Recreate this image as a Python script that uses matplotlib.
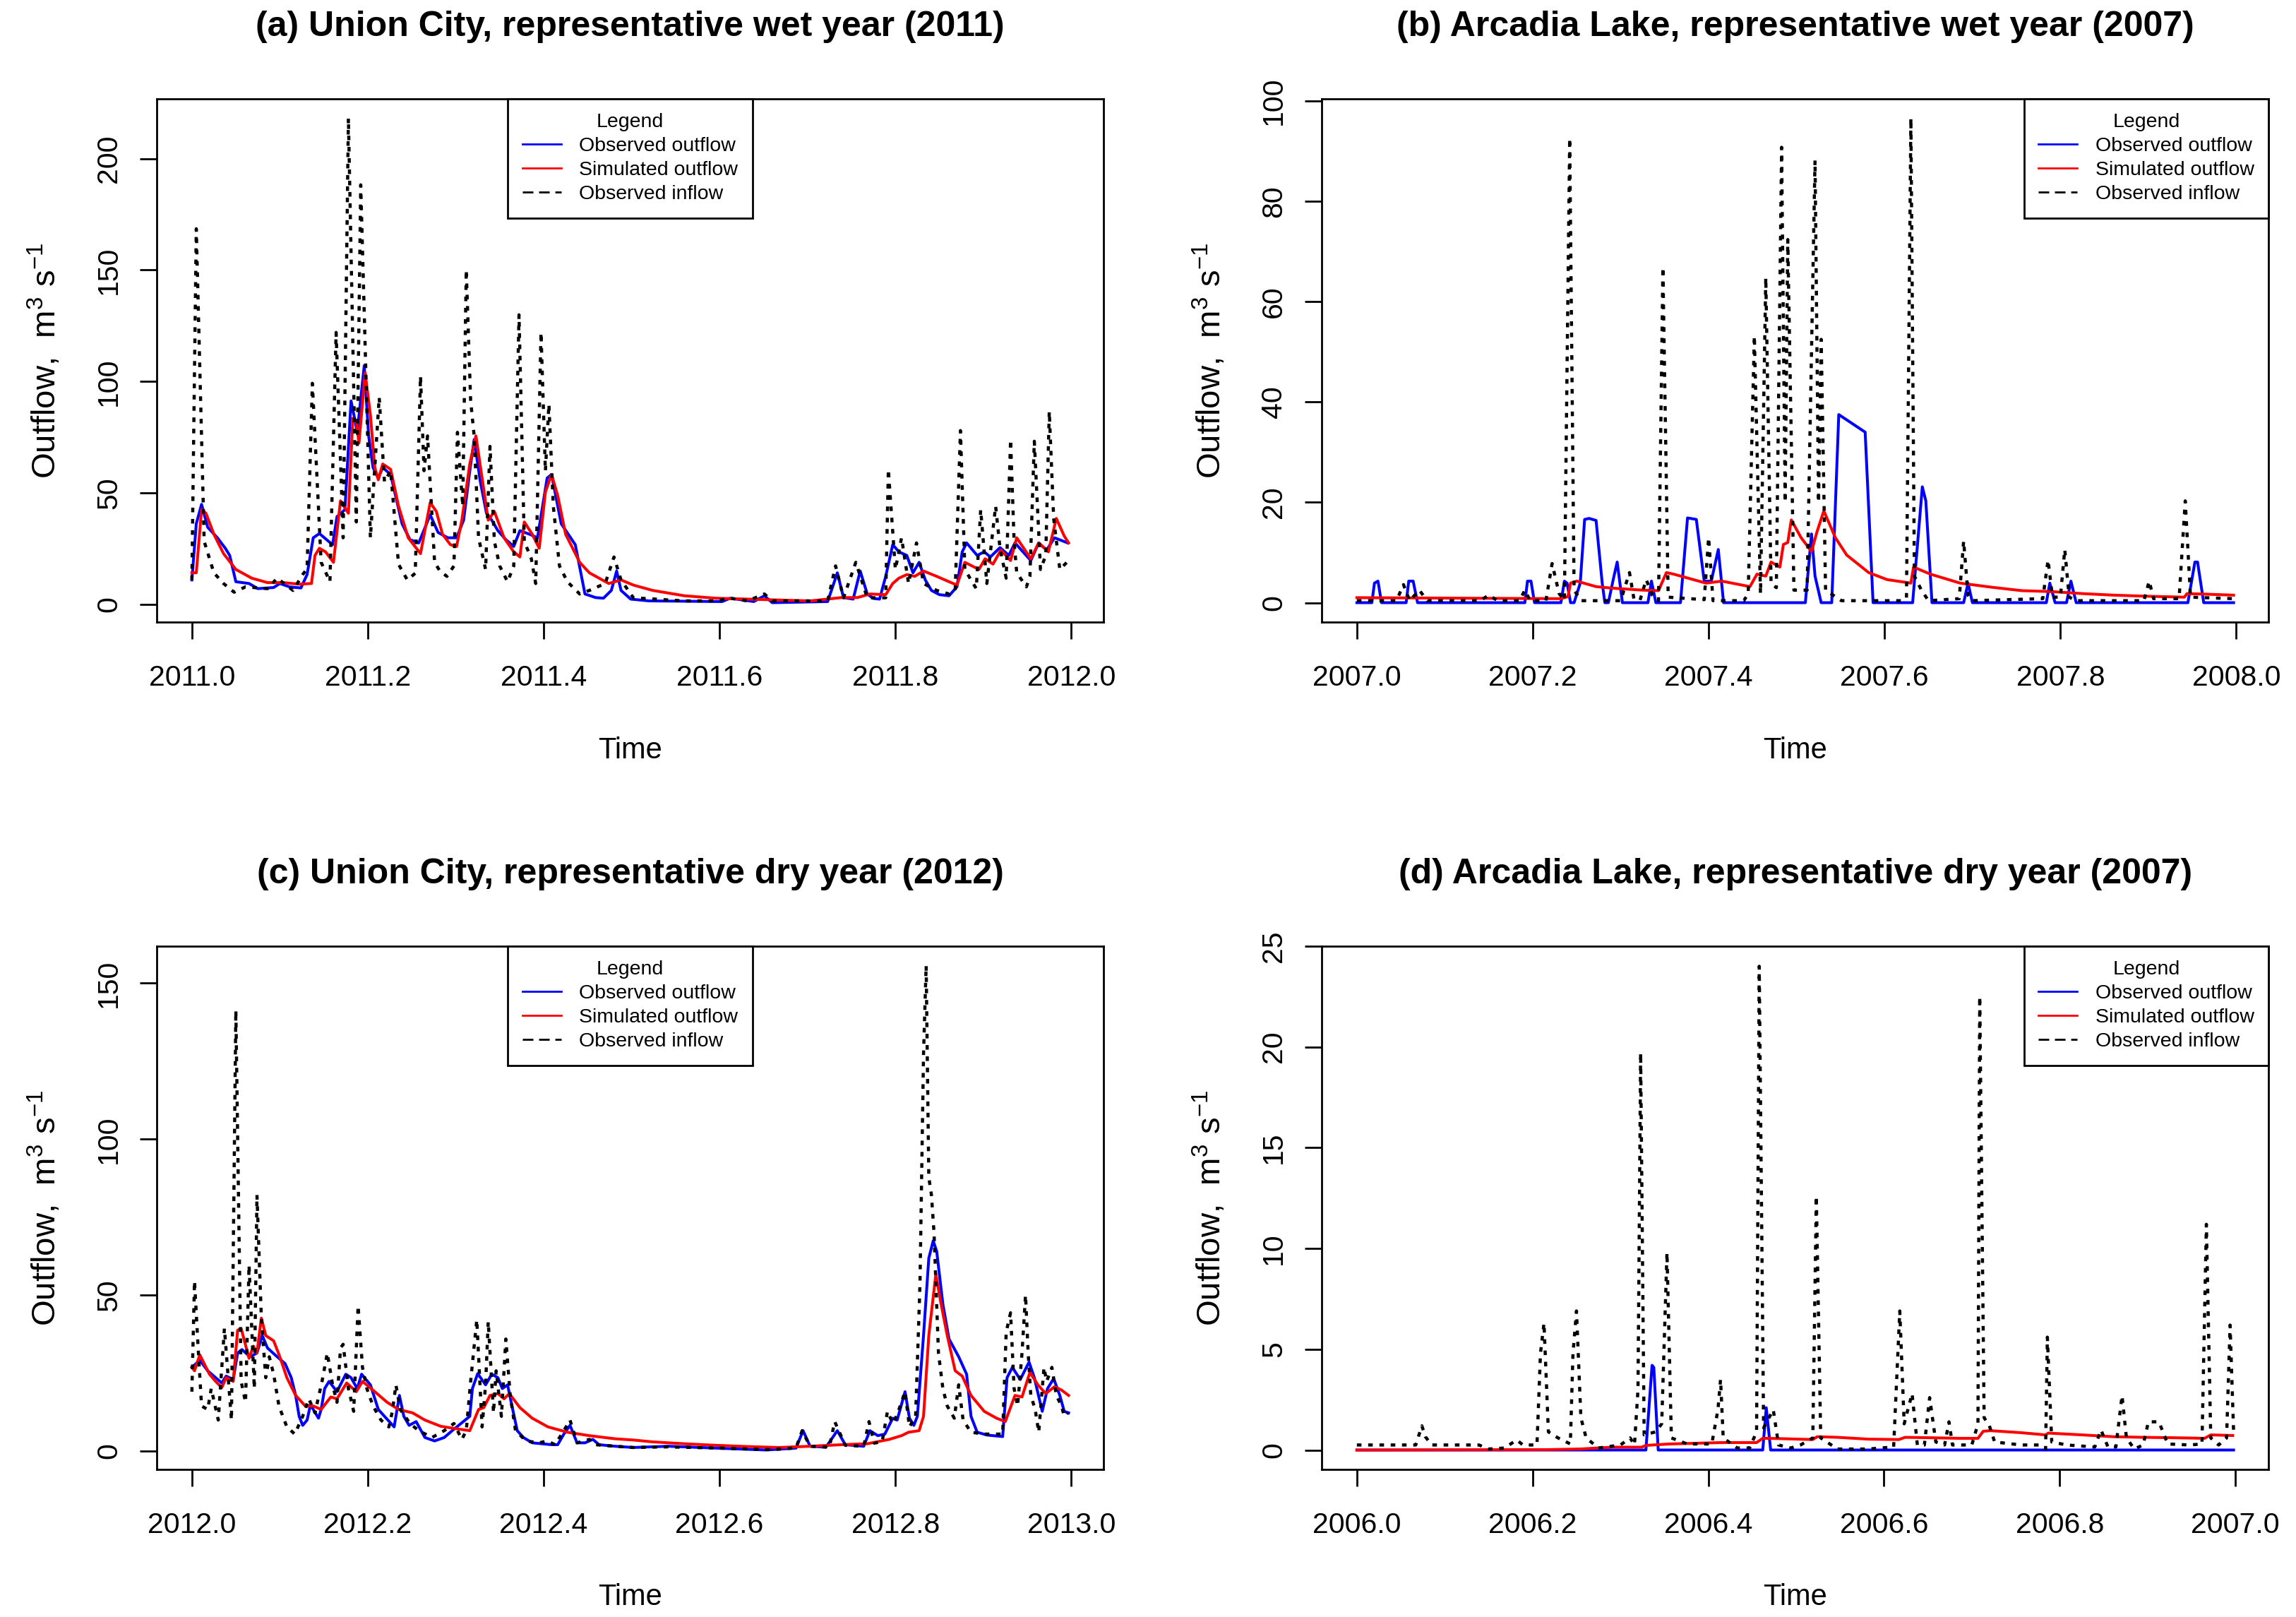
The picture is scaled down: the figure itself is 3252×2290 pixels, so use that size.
import numpy as np
import matplotlib
matplotlib.use("Agg")
import matplotlib.pyplot as plt
from matplotlib.lines import Line2D

plt.rcParams["font.family"] = ["Liberation Sans", "DejaVu Sans"]
plt.rcParams["mathtext.fontset"] = "custom"
plt.rcParams["mathtext.rm"] = "Liberation Sans"
plt.rcParams["mathtext.it"] = "Liberation Sans:italic"
plt.rcParams["mathtext.bf"] = "Liberation Sans:bold"
plt.rcParams["mathtext.default"] = "regular"
plt.rcParams["lines.scale_dashes"] = False

# time is given as fraction of the year, flows in m3/s

# (a) Union City, wet year 2011
a_year = 2011
a_in_t = [0.000, 0.005, 0.014, 0.025, 0.036, 0.048, 0.061, 0.086, 0.097, 0.115, 0.126, 0.131,
          0.137, 0.147, 0.157, 0.164, 0.172, 0.178, 0.187, 0.192, 0.203, 0.213, 0.219, 0.226,
          0.235, 0.245, 0.254, 0.260, 0.264, 0.268, 0.276, 0.282, 0.290, 0.298, 0.302, 0.308,
          0.312, 0.317, 0.321, 0.326, 0.334, 0.339, 0.344, 0.350, 0.359, 0.366, 0.372, 0.378,
          0.386, 0.391, 0.397, 0.402, 0.406, 0.411, 0.418, 0.427, 0.441, 0.452, 0.470, 0.480,
          0.488, 0.502, 0.560, 0.596, 0.612, 0.632, 0.651, 0.660, 0.723, 0.732, 0.741, 0.755,
          0.768, 0.789, 0.792, 0.800, 0.807, 0.815, 0.824, 0.832, 0.847, 0.861, 0.868, 0.874,
          0.879, 0.886, 0.892, 0.897, 0.904, 0.914, 0.919, 0.926, 0.931, 0.935, 0.938, 0.949,
          0.953, 0.958, 0.965, 0.971, 0.975, 0.980, 0.987, 0.995]
a_in_q = [11, 168.5, 28.3, 14.2, 9.4, 5.5, 7.9, 7.1, 11.8, 6.3, 13.4, 16,
          99.2, 18.9, 10.2, 122, 29.9, 218.1, 37, 188.2, 29.9, 92.9, 55, 60,
          18, 11, 14, 102.4, 60, 75.6, 18.9, 15, 12.6, 17.3, 77.2, 44.1,
          150.1, 91.3, 75.6, 29.9, 15.7, 70.9, 28.3, 17.3, 10.2, 17.3, 129.9, 28.3,
          20.5, 9.4, 122, 59.8, 89.8, 44.1, 17.3, 10.2, 4.7, 6.3, 9.4, 21.3,
          11, 3, 1.6, 1.6, 2.8, 1.6, 4.7, 1.6, 1.6, 17.3, 3, 18.9,
          3, 3, 60.6, 15.7, 29.9, 9.4, 27.6, 9.4, 6.3, 4.7, 6.3, 78,
          15.7, 11, 7.1, 42.5, 9.4, 44.1, 25.2, 11.8, 74, 28.3, 14.2, 7.9,
          12.6, 73.2, 15.7, 22, 86.6, 38.6, 15.7, 18.9]
a_obs_t = [0.000, 0.005, 0.011, 0.018, 0.029, 0.038, 0.043, 0.050, 0.065, 0.075, 0.093, 0.100,
           0.111, 0.124, 0.131, 0.138, 0.145, 0.160, 0.165, 0.174, 0.181, 0.185, 0.188, 0.196,
           0.201, 0.206, 0.212, 0.217, 0.226, 0.239, 0.248, 0.258, 0.271, 0.280, 0.291, 0.301,
           0.309, 0.316, 0.321, 0.328, 0.335, 0.341, 0.348, 0.357, 0.366, 0.373, 0.384, 0.393,
           0.404, 0.409, 0.420, 0.436, 0.447, 0.459, 0.468, 0.477, 0.483, 0.488, 0.499, 0.520,
           0.603, 0.612, 0.639, 0.651, 0.660, 0.723, 0.734, 0.741, 0.752, 0.760, 0.768, 0.775,
           0.782, 0.789, 0.797, 0.804, 0.813, 0.820, 0.827, 0.834, 0.841, 0.850, 0.861, 0.870,
           0.876, 0.881, 0.893, 0.901, 0.908, 0.919, 0.929, 0.936, 0.954, 0.963, 0.972, 0.981,
           0.996]
a_obs_q = [11, 36.2, 44.9, 34.6, 29.9, 25.2, 22, 10.2, 9.4, 7.1, 7.6, 9.4,
           7.9, 7.4, 13.4, 29.9, 31.8, 26.8, 39.4, 42.5, 91.3, 83.5, 77.2, 107.1,
           75.6, 61.4, 56.7, 61.4, 58.3, 36.2, 29.1, 27.6, 40.2, 32.3, 29.9, 29.9,
           37.8, 59.8, 74, 55.1, 40.9, 37.8, 33.1, 29.1, 26, 33.1, 31.5, 29.9,
           56.7, 58.3, 36.2, 26.8, 4.7, 3.1, 2.8, 6.3, 15, 6.3, 2.4, 1.6,
           1.3, 2.8, 1.3, 3.9, 0.8, 1.3, 14.2, 3.1, 2.4, 15, 4.7, 2.7,
           2.4, 12.6, 26.8, 23.6, 22, 14.2, 18.9, 11, 6.3, 4.4, 3.9, 7.9,
           23.6, 27.6, 22, 23.6, 21.3, 25.5, 22, 27.6, 19.7, 27.6, 24.4, 29.9,
           27.6]
a_sim_t = [0.000, 0.005, 0.011, 0.016, 0.025, 0.036, 0.050, 0.068, 0.086, 0.104, 0.122, 0.136,
           0.140, 0.145, 0.152, 0.161, 0.169, 0.178, 0.183, 0.187, 0.190, 0.197, 0.203, 0.208,
           0.212, 0.217, 0.226, 0.235, 0.246, 0.260, 0.271, 0.278, 0.285, 0.294, 0.301, 0.307,
           0.316, 0.323, 0.330, 0.337, 0.344, 0.355, 0.366, 0.373, 0.378, 0.387, 0.395, 0.402,
           0.409, 0.416, 0.425, 0.441, 0.452, 0.474, 0.488, 0.502, 0.524, 0.560, 0.596, 0.632,
           0.667, 0.703, 0.739, 0.757, 0.771, 0.789, 0.797, 0.804, 0.813, 0.822, 0.832, 0.847,
           0.861, 0.870, 0.879, 0.895, 0.902, 0.911, 0.920, 0.931, 0.938, 0.954, 0.963, 0.974,
           0.983, 0.992, 0.997]
a_sim_q = [14.2, 14.2, 42.5, 40.9, 31.5, 22.8, 15.7, 11.8, 9.8, 9.8, 9.1, 9.4,
           22, 25.2, 23.6, 18.9, 46.5, 40.9, 83.5, 81.9, 72.4, 103.9, 85, 61.4,
           55.9, 63, 60.6, 44.1, 29.9, 22.8, 45.7, 41.7, 31.5, 26.8, 26, 37.8,
           63, 75.6, 56.7, 37.8, 41.7, 29.9, 23.6, 21.3, 37, 31.5, 25.2, 50.4,
           58.3, 48.8, 31.5, 18.9, 14.2, 9.4, 11, 8.7, 6.3, 3.9, 2.8, 2.4,
           2, 1.6, 3.1, 3.1, 4.7, 4.4, 9.4, 11.8, 13.4, 12.6, 15, 12.6,
           10.2, 8.7, 18.9, 15.7, 20.5, 18.1, 24.4, 19.7, 29.9, 20.5, 27.6, 23.6,
           38.6, 30.7, 27.6]

# (b) Arcadia Lake, wet year 2007
b_year = 2007
b_in_t = [0.000, 0.045, 0.053, 0.060, 0.071, 0.080, 0.140, 0.150, 0.160, 0.185, 0.191, 0.197,
          0.215, 0.222, 0.230, 0.236, 0.242, 0.247, 0.255, 0.300, 0.310, 0.315, 0.322, 0.329,
          0.336, 0.343, 0.348, 0.354, 0.395, 0.400, 0.405, 0.440, 0.445, 0.452, 0.459, 0.465,
          0.471, 0.477, 0.483, 0.487, 0.490, 0.497, 0.512, 0.521, 0.525, 0.528, 0.533, 0.551,
          0.620, 0.625, 0.630, 0.634, 0.642, 0.650, 0.685, 0.690, 0.695, 0.700, 0.780, 0.786,
          0.791, 0.800, 0.805, 0.810, 0.818, 0.895, 0.901, 0.906, 0.935, 0.942, 0.948, 0.997]
b_in_q = [0.4, 0.4, 3.6, 0.4, 2.5, 0.4, 0.4, 1.5, 0.4, 0.4, 2.5, 0.4,
          0.4, 7.8, 1.8, 0.5, 92.6, 2.5, 0.4, 0.4, 6, 0.8, 0.5, 4.6,
          1.5, 0.4, 66.9, 1.1, 0.6, 13, 0.4, 0.4, 1.8, 53.2, 1.8, 64.8,
          3.9, 3, 90.8, 20, 72.4, 2.5, 2.5, 88.2, 20, 52.5, 2.5, 0.4,
          0.4, 1, 96.6, 5.3, 2.5, 0.4, 0.8, 12.3, 1.5, 0.4, 0.8, 8.5,
          1.1, 1.1, 10.6, 1.1, 0.4, 0.4, 4.3, 0.8, 0.8, 20.3, 1.1, 0.8]
b_obs_t = [0.000, 0.017, 0.020, 0.024, 0.028, 0.056, 0.059, 0.064, 0.069, 0.191, 0.194, 0.198,
           0.202, 0.232, 0.236, 0.239, 0.243, 0.247, 0.254, 0.259, 0.264, 0.272, 0.279, 0.282,
           0.286, 0.292, 0.296, 0.302, 0.331, 0.335, 0.340, 0.368, 0.376, 0.386, 0.395, 0.403,
           0.411, 0.417, 0.510, 0.517, 0.521, 0.528, 0.540, 0.548, 0.578, 0.587, 0.632, 0.643,
           0.647, 0.654, 0.690, 0.695, 0.700, 0.784, 0.788, 0.794, 0.807, 0.812, 0.818, 0.945,
           0.953, 0.956, 0.963, 0.997]
b_obs_q = [0, 0, 3.9, 4.3, 0, 0, 4.3, 4.3, 0, 0, 4.3, 4.3,
           0, 0, 4.3, 3.9, 0, 0, 3.9, 16.6, 16.8, 16.4, 3.9, 0,
           0, 5, 8.1, 0, 0, 4.3, 0, 0, 16.9, 16.6, 4.3, 4.3,
           10.6, 0, 0, 13.7, 5.3, 0, 0, 37.5, 34, 0, 0, 23.1,
           20.3, 0, 0, 3.9, 0, 0, 3.9, 0, 0, 4.3, 0, 0,
           8.1, 8.1, 0, 0]
b_sim_t = [0.000, 0.232, 0.240, 0.243, 0.250, 0.272, 0.290, 0.325, 0.343, 0.352, 0.360, 0.397,
           0.415, 0.447, 0.455, 0.465, 0.471, 0.481, 0.485, 0.490, 0.494, 0.505, 0.517, 0.523,
           0.531, 0.544, 0.557, 0.582, 0.603, 0.630, 0.633, 0.652, 0.686, 0.721, 0.756, 0.791,
           0.826, 0.861, 0.895, 0.941, 0.944, 0.965, 0.997]
b_sim_q = [1, 0.8, 1.2, 3.9, 4.3, 3.2, 2.9, 2.5, 2.4, 6, 5.7, 3.9,
           4.3, 3.2, 5.7, 5.3, 8.1, 7.1, 11.6, 12, 16.5, 13, 10.2, 14,
           18.3, 13, 9.5, 6, 4.6, 3.9, 7.1, 5.7, 3.9, 3.1, 2.4, 2.2,
           1.8, 1.5, 1.3, 1.1, 1.8, 1.7, 1.5]

# (c) Union City, dry year 2012
c_year = 2012
c_in_t = [0.000, 0.003, 0.007, 0.011, 0.018, 0.022, 0.030, 0.037, 0.045, 0.050, 0.056, 0.061,
          0.065, 0.071, 0.074, 0.079, 0.084, 0.088, 0.093, 0.099, 0.108, 0.117, 0.126, 0.133,
          0.140, 0.148, 0.154, 0.160, 0.165, 0.169, 0.172, 0.178, 0.184, 0.189, 0.194, 0.199,
          0.206, 0.215, 0.224, 0.228, 0.232, 0.237, 0.248, 0.258, 0.273, 0.287, 0.298, 0.307,
          0.312, 0.317, 0.324, 0.330, 0.334, 0.337, 0.343, 0.346, 0.352, 0.357, 0.362, 0.368,
          0.380, 0.395, 0.404, 0.413, 0.423, 0.430, 0.438, 0.452, 0.459, 0.481, 0.502, 0.540,
          0.600, 0.660, 0.687, 0.694, 0.703, 0.725, 0.731, 0.743, 0.764, 0.770, 0.776, 0.785,
          0.791, 0.797, 0.802, 0.811, 0.816, 0.823, 0.828, 0.832, 0.835, 0.838, 0.841, 0.844,
          0.849, 0.854, 0.859, 0.867, 0.872, 0.877, 0.886, 0.901, 0.922, 0.926, 0.931, 0.935,
          0.939, 0.944, 0.948, 0.951, 0.954, 0.959, 0.963, 0.969, 0.972, 0.978, 0.983, 0.989,
          0.992, 0.996]
c_in_q = [19, 54.5, 33.6, 14.4, 13.3, 20, 9.9, 39.3, 9.9, 141.3, 22.3, 15.6,
          59.6, 20, 82.1, 42.6, 23.5, 30.2, 24.6, 14.4, 7.7, 5.4, 11.1, 16.7,
          12.2, 22.3, 31.4, 21.2, 15.6, 33, 34.2, 20, 12.7, 46.6, 26.8, 20,
          14.4, 9.9, 7.7, 12.7, 21.2, 13.3, 8.8, 6.5, 4.3, 6.5, 8.8, 3.7,
          6.5, 22.3, 42.1, 7.7, 21.2, 41.5, 12.2, 25.7, 11.1, 35.9, 17.8, 6.5,
          3.2, 2.6, 3.2, 2, 6.5, 9.9, 2.6, 3.7, 2, 1.5, 1.1, 1.3,
          0.9, 0.4, 1, 6.5, 1.5, 1.2, 9.4, 1.8, 1.5, 9.4, 2.5, 3,
          12.7, 8.8, 11.6, 19, 7.7, 11.1, 53.9, 127.2, 155.7, 87.8, 82.1, 69.7,
          31.4, 20, 14.4, 10.5, 21.2, 9.9, 6, 5.4, 5.4, 38.1, 44.3, 20,
          14.4, 31.4, 50, 31.4, 17.8, 13.3, 6, 26.8, 22.3, 26.8, 17.8, 14.4,
          11.1, 12.2]
c_obs_t = [0.000, 0.009, 0.018, 0.027, 0.034, 0.039, 0.047, 0.052, 0.057, 0.066, 0.074, 0.080,
           0.086, 0.097, 0.106, 0.113, 0.118, 0.122, 0.126, 0.131, 0.135, 0.138, 0.144, 0.147,
           0.151, 0.156, 0.165, 0.175, 0.181, 0.188, 0.193, 0.203, 0.212, 0.219, 0.230, 0.236,
           0.241, 0.247, 0.255, 0.265, 0.276, 0.287, 0.296, 0.316, 0.319, 0.325, 0.334, 0.341,
           0.348, 0.353, 0.359, 0.364, 0.370, 0.377, 0.387, 0.409, 0.416, 0.423, 0.430, 0.438,
           0.447, 0.456, 0.463, 0.481, 0.502, 0.542, 0.596, 0.653, 0.687, 0.695, 0.703, 0.721,
           0.734, 0.743, 0.764, 0.771, 0.780, 0.788, 0.797, 0.802, 0.811, 0.816, 0.821, 0.825,
           0.832, 0.838, 0.843, 0.847, 0.854, 0.861, 0.872, 0.881, 0.886, 0.893, 0.904, 0.922,
           0.927, 0.933, 0.942, 0.952, 0.958, 0.967, 0.973, 0.980, 0.987, 0.992, 0.997]
c_obs_q = [26.8, 29.1, 25.7, 23.5, 21.8, 24, 22.9, 31.4, 32.5, 30.2, 31.4, 37,
           33, 30.2, 28, 23.5, 17.8, 11.1, 8.2, 9.9, 15, 13.3, 10.5, 13.3,
           20, 22.3, 19, 24.6, 23.5, 20, 24.6, 21.2, 13.3, 11.1, 7.7, 17.8,
           11.1, 8.2, 9.4, 4.3, 3.2, 4.3, 6.5, 11.1, 20, 24.8, 21.2, 24.6,
           23.5, 20, 21.2, 14.4, 6.5, 4.3, 2.6, 2, 2, 5.4, 8.2, 2.6,
           2.6, 3.7, 2, 1.5, 1.1, 1.5, 0.9, 0.3, 0.9, 6.5, 1.5, 1.2,
           6.5, 2, 1.5, 6.5, 4.9, 5.4, 10.5, 9.9, 19, 10.5, 8.2, 11.1,
           37, 61.8, 67.4, 64, 47.1, 35.9, 30.2, 24.6, 11.1, 6, 5.1, 4.6,
           23.5, 26.8, 22.9, 28.5, 23.5, 12.7, 20, 23.2, 17.8, 12.7, 12.2]
c_sim_t = [0.000, 0.003, 0.009, 0.014, 0.020, 0.027, 0.034, 0.039, 0.047, 0.052, 0.056, 0.065,
           0.070, 0.074, 0.079, 0.084, 0.093, 0.100, 0.108, 0.118, 0.129, 0.138, 0.147, 0.158,
           0.165, 0.176, 0.187, 0.194, 0.208, 0.222, 0.235, 0.251, 0.265, 0.283, 0.301, 0.316,
           0.326, 0.332, 0.339, 0.348, 0.355, 0.361, 0.373, 0.387, 0.405, 0.427, 0.452, 0.481,
           0.502, 0.524, 0.560, 0.596, 0.632, 0.667, 0.703, 0.739, 0.768, 0.793, 0.807, 0.815,
           0.827, 0.832, 0.838, 0.846, 0.852, 0.859, 0.868, 0.876, 0.886, 0.901, 0.915, 0.925,
           0.936, 0.944, 0.953, 0.962, 0.971, 0.981, 0.989, 0.997]
c_sim_q = [26.8, 25.7, 30.8, 28, 24.6, 22.3, 20.3, 23.5, 22.3, 38.7, 39.3, 29.7,
           33.6, 31.4, 42.6, 37, 35.3, 30.2, 23.5, 17.8, 14.4, 14.4, 13.3, 17.3,
           16.7, 21.8, 19, 22.3, 19, 15.6, 13.3, 12.2, 9.9, 7.9, 7.1, 6.5,
           13.3, 13.9, 17.8, 18.4, 16.7, 18.4, 13.9, 10.5, 7.7, 6, 4.9, 3.9,
           3.5, 2.9, 2.3, 1.8, 1.4, 1.1, 1.5, 2, 2.3, 3.7, 4.9, 6,
           6.5, 11.1, 37, 56.7, 47.1, 37, 25.7, 24, 17.8, 12.7, 10.5, 9.4,
           17.8, 17.3, 25.2, 21.2, 18.4, 20.6, 19.5, 17.8]

# (d) Arcadia Lake, dry year (axis runs over 2006)
d_year = 2006
d_in_t = [0.000, 0.067, 0.074, 0.078, 0.085, 0.139, 0.150, 0.168, 0.182, 0.189, 0.205, 0.209,
          0.213, 0.218, 0.229, 0.243, 0.246, 0.250, 0.255, 0.261, 0.275, 0.300, 0.311, 0.316,
          0.320, 0.323, 0.327, 0.340, 0.347, 0.353, 0.358, 0.376, 0.404, 0.411, 0.414, 0.417,
          0.433, 0.447, 0.455, 0.458, 0.463, 0.474, 0.480, 0.494, 0.505, 0.519, 0.523, 0.528,
          0.547, 0.582, 0.611, 0.618, 0.623, 0.632, 0.638, 0.646, 0.652, 0.659, 0.669, 0.674,
          0.678, 0.700, 0.707, 0.709, 0.714, 0.720, 0.726, 0.756, 0.777, 0.784, 0.786, 0.791,
          0.808, 0.840, 0.847, 0.855, 0.864, 0.871, 0.876, 0.885, 0.895, 0.901, 0.913, 0.923,
          0.948, 0.962, 0.967, 0.972, 0.981, 0.990, 0.994, 0.998]
d_in_q = [0.25, 0.25, 1.2, 0.66, 0.25, 0.25, 0.05, 0.1, 0.5, 0.25, 0.25, 4.8,
          6.3, 0.9, 0.6, 0.3, 4.8, 6.9, 1.6, 0.6, 0.1, 0.25, 0.6, 0.25,
          3, 19.7, 0.75, 0.9, 1.3, 9.8, 0.6, 0.3, 0.3, 2, 3.5, 0.6,
          0.1, 0.1, 0.9, 24, 1.1, 2, 0.25, 0.1, 0.25, 0.6, 12.6, 0.6,
          0.05, 0.05, 0.15, 6.9, 1.3, 2.8, 0.25, 0.25, 2.6, 0.4, 0.25, 1.4,
          0.25, 0.25, 1.3, 22.5, 1.6, 1.2, 0.4, 0.25, 0.25, 0.05, 5.6, 0.4,
          0.25, 0.15, 1, 0.15, 0.15, 2.7, 0.6, 0.05, 0.25, 1.4, 1.4, 0.3,
          0.25, 0.3, 11.2, 0.6, 0.25, 0.6, 6.2, 0.9]
d_obs_t = [0.000, 0.329, 0.336, 0.338, 0.343, 0.462, 0.466, 0.471, 0.998]
d_obs_q = [0, 0, 4.2, 4.1, 0, 0, 2.1, 0, 0]
d_sim_t = [0.000, 0.218, 0.254, 0.290, 0.324, 0.329, 0.356, 0.415, 0.455, 0.462, 0.469, 0.519,
           0.524, 0.547, 0.582, 0.617, 0.624, 0.652, 0.686, 0.707, 0.713, 0.721, 0.756, 0.784,
           0.787, 0.826, 0.861, 0.895, 0.930, 0.965, 0.972, 0.997]
d_sim_q = [0, 0.02, 0.05, 0.14, 0.14, 0.23, 0.3, 0.37, 0.37, 0.58, 0.58, 0.52,
           0.66, 0.63, 0.54, 0.52, 0.63, 0.61, 0.58, 0.58, 0.93, 0.96, 0.86, 0.75,
           0.84, 0.75, 0.66, 0.63, 0.61, 0.58, 0.75, 0.72]

titles = ["(a) Union City, representative wet year (2011)",
          "(b) Arcadia Lake, representative wet year (2007)",
          "(c) Union City, representative dry year (2012)",
          "(d) Arcadia Lake, representative dry year (2007)"]
y_ticks = [[0, 50, 100, 150, 200], [0, 20, 40, 60, 80, 100],
           [0, 50, 100, 150], [0, 5, 10, 15, 20, 25]]
x_ticks = [0.0, 0.2, 0.4, 0.6, 0.8, 1.0]
legend_labels = ["Observed outflow", "Simulated outflow", "Observed inflow"]


def draw_panel(ax, year, obs_t, obs_q, sim_t, sim_q, in_t, in_q, title, yt, loc):
    """Draw one reservoir panel in the style of an R base plot."""
    ot = year + np.array(obs_t)
    st = year + np.array(sim_t)
    it = year + np.array(in_t)
    ax.plot(ot, obs_q, color="#0000ff", lw=2.9, solid_joinstyle="round")
    ax.plot(st, sim_q, color="#ff0000", lw=2.9, solid_joinstyle="round")
    ax.plot(it, in_q, color="black", lw=3.2, dashes=(4.7, 6.8), dash_capstyle="butt")

    # R style 4% padding on both axes
    all_t = np.concatenate([ot, st, it])
    all_q = np.concatenate([obs_q, sim_q, in_q])
    tr = all_t.max() - all_t.min()
    qr = all_q.max() - all_q.min()
    ax.set_xlim(all_t.min() - 0.04 * tr, all_t.max() + 0.04 * tr)
    ax.set_ylim(all_q.min() - 0.04 * qr, all_q.max() + 0.04 * qr)

    ax.set_xticks([year + x for x in x_ticks])
    ax.set_xticklabels(["%.1f" % (year + x) for x in x_ticks])
    ax.set_yticks(yt)
    ax.set_yticklabels([str(v) for v in yt], rotation=90, va="center")
    ax.tick_params(direction="out", length=17.3, width=2, labelsize=29.5, color="black")
    ax.tick_params(axis="x", pad=26)
    ax.tick_params(axis="y", pad=18)
    for sp in ax.spines.values():
        sp.set_linewidth(2)

    ax.set_title(title, fontsize=36, fontweight="bold", pad=64)
    ax.set_xlabel("Time", fontsize=30)
    ax.xaxis.set_label_coords(0.5, -0.218)
    ax.set_ylabel("Outflow,  m$^{3}$ s$^{-1}$", fontsize=34)
    ax.yaxis.set_label_coords(-0.099, 0.5)

    handles = [Line2D([], [], color="#0000ff", lw=2),
               Line2D([], [], color="#ff0000", lw=2),
               Line2D([], [], color="black", lw=2, dashes=(10.8, 5.8))]
    leg = ax.legend(handles, legend_labels, title="Legend", loc=loc,
                    borderaxespad=0, fontsize=20.5, title_fontsize=20.5,
                    handlelength=1.93, handletextpad=0.9, borderpad=0.72,
                    labelspacing=0.28, fancybox=False, framealpha=1)
    leg.get_frame().set_edgecolor("black")
    leg.get_frame().set_linewidth(2)


fig = plt.figure(figsize=(32.52, 22.90), dpi=100)
ax_a = fig.add_axes([0.0683, 0.6153, 0.4124, 0.3236])
ax_b = fig.add_axes([0.5757, 0.6153, 0.4124, 0.3236])
ax_c = fig.add_axes([0.0683, 0.0913, 0.4124, 0.3236])
ax_d = fig.add_axes([0.5757, 0.0913, 0.4124, 0.3236])

draw_panel(ax_a, a_year, a_obs_t, a_obs_q, a_sim_t, a_sim_q, a_in_t, a_in_q,
           titles[0], y_ticks[0], "upper center")
draw_panel(ax_b, b_year, b_obs_t, b_obs_q, b_sim_t, b_sim_q, b_in_t, b_in_q,
           titles[1], y_ticks[1], "upper right")
draw_panel(ax_c, c_year, c_obs_t, c_obs_q, c_sim_t, c_sim_q, c_in_t, c_in_q,
           titles[2], y_ticks[2], "upper center")
draw_panel(ax_d, d_year, d_obs_t, d_obs_q, d_sim_t, d_sim_q, d_in_t, d_in_q,
           titles[3], y_ticks[3], "upper right")

fig.savefig("out.png", dpi=100)
